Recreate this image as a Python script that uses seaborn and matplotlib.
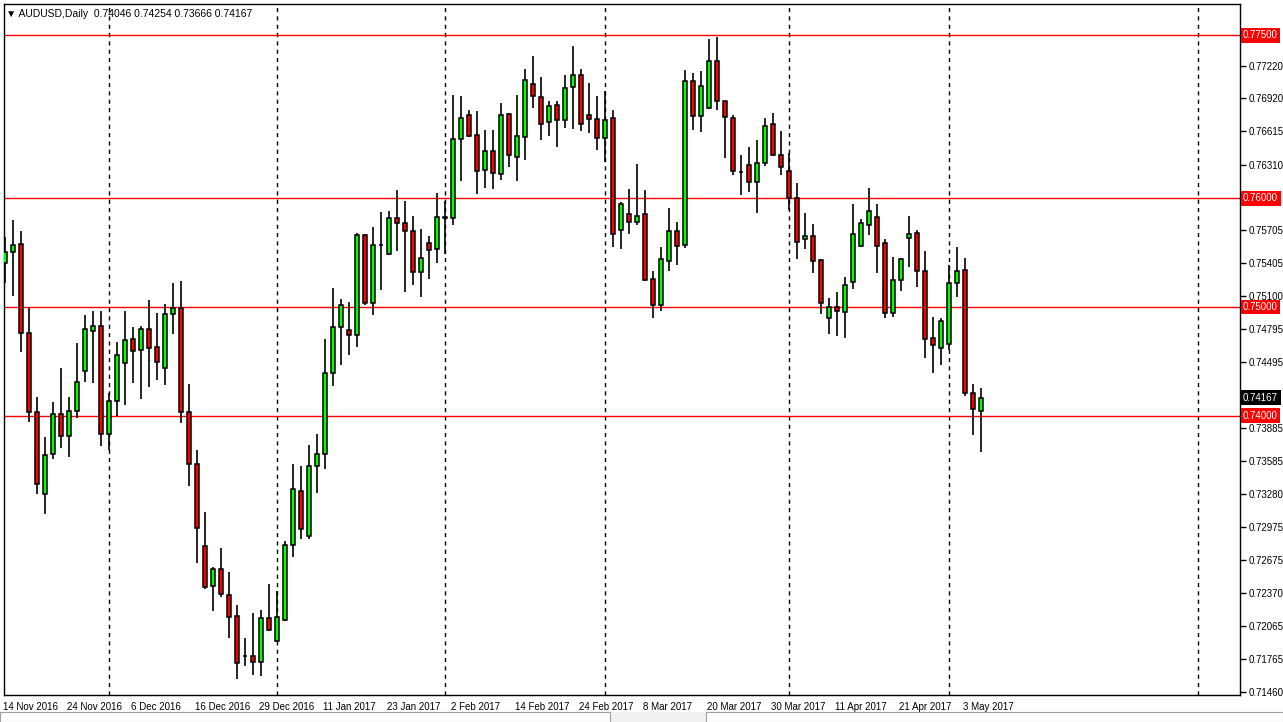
import numpy as np
import pandas as pd
import matplotlib
matplotlib.use("Agg")
import matplotlib.pyplot as plt
import matplotlib.transforms as mtransforms
from matplotlib.patches import Rectangle
import seaborn as sns

# AUDUSD daily bars, 14 Nov 2016 -> 5 May 2017
opens = [0.75405, 0.75506, 0.75580, 0.74761, 0.74034, 0.73280, 0.73648, 0.74016, 0.73813, 0.74043,
         0.74411, 0.74779, 0.74825, 0.73832, 0.74135, 0.74485, 0.74706, 0.74604, 0.74798, 0.74632,
         0.74439, 0.74936, 0.74991, 0.74034, 0.73556, 0.72801, 0.72433, 0.72590, 0.72350, 0.72157,
         0.71785, 0.71789, 0.71734, 0.72139, 0.71927, 0.72120, 0.72810, 0.73307, 0.72893, 0.73537,
         0.73648, 0.74393, 0.74816, 0.74788, 0.74742, 0.75662, 0.75037, 0.75570, 0.75488, 0.75819,
         0.75773, 0.75699, 0.75322, 0.75589, 0.75534, 0.75828, 0.75819, 0.76546, 0.76766, 0.76582,
         0.76260, 0.76435, 0.76224, 0.76776, 0.76380, 0.76564, 0.77052, 0.76932, 0.76702, 0.76858,
         0.76720, 0.77024, 0.77134, 0.76766, 0.76730, 0.76555, 0.76739, 0.75708, 0.75856, 0.75782,
         0.75856, 0.75258, 0.75018, 0.75423, 0.75699, 0.75570, 0.77079, 0.76757, 0.76831, 0.77263,
         0.76895, 0.76739, 0.76245, 0.76306, 0.76150, 0.76325, 0.76684, 0.76398, 0.76251, 0.76003,
         0.75626, 0.75653, 0.75432, 0.74899, 0.75000, 0.74954, 0.75230, 0.75561, 0.75754, 0.75828,
         0.75589, 0.74945, 0.75248, 0.75635, 0.75681, 0.75331, 0.74715, 0.74623, 0.74660, 0.75221,
         0.75340, 0.74209, 0.74046]
highs = [0.75644, 0.75800, 0.75699, 0.74991, 0.74172, 0.73804, 0.74126, 0.74439, 0.74172, 0.74669,
         0.74926, 0.74963, 0.74963, 0.74209, 0.74678, 0.74963, 0.74816, 0.74825, 0.75064, 0.74945,
         0.75028, 0.75221, 0.75239, 0.74292, 0.73684, 0.73114, 0.72608, 0.72783, 0.72562, 0.72258,
         0.71955, 0.72185, 0.72212, 0.72452, 0.72387, 0.72847, 0.73556, 0.73537, 0.73730, 0.73832,
         0.74706, 0.75175, 0.75074, 0.75046, 0.75681, 0.75670, 0.75736, 0.75874, 0.75883, 0.76076,
         0.75975, 0.75837, 0.75718, 0.75653, 0.76049, 0.75975, 0.76950, 0.76941, 0.76812, 0.76803,
         0.76628, 0.76628, 0.76877, 0.76785, 0.76950, 0.77190, 0.77309, 0.77116, 0.76895, 0.76895,
         0.77134, 0.77401, 0.77190, 0.77061, 0.76941, 0.76987, 0.76812, 0.75966, 0.76086, 0.76316,
         0.76076, 0.75331, 0.75552, 0.75911, 0.75782, 0.77180, 0.77153, 0.77171, 0.77466, 0.77484,
         0.76900, 0.76766, 0.76398, 0.76472, 0.76536, 0.76739, 0.76785, 0.76619, 0.76417, 0.76141,
         0.75865, 0.75764, 0.75442, 0.75083, 0.75138, 0.75276, 0.75948, 0.75810, 0.76095, 0.75948,
         0.75626, 0.75460, 0.75451, 0.75837, 0.75708, 0.75515, 0.74908, 0.74899, 0.75386, 0.75552,
         0.75451, 0.74292, 0.74254]
lows = [0.75221, 0.75101, 0.74586, 0.73942, 0.73280, 0.73096, 0.73602, 0.73703, 0.73620, 0.73979,
        0.74310, 0.74301, 0.73721, 0.73684, 0.73997, 0.74098, 0.74301, 0.74154, 0.74264, 0.74328,
        0.74282, 0.74752, 0.73933, 0.73353, 0.72645, 0.72406, 0.72203, 0.72332, 0.71955, 0.71578,
        0.71697, 0.71614, 0.71605, 0.72020, 0.71920, 0.72111, 0.72700, 0.72866, 0.72866, 0.73289,
        0.73510, 0.74273, 0.74466, 0.74558, 0.74632, 0.75018, 0.74926, 0.75156, 0.75478, 0.75515,
        0.75138, 0.75202, 0.75092, 0.75258, 0.75405, 0.75488, 0.75754, 0.76159, 0.76565, 0.76040,
        0.76095, 0.76086, 0.76168, 0.76288, 0.76159, 0.76352, 0.76831, 0.76536, 0.76573, 0.76472,
        0.76647, 0.76638, 0.76619, 0.76601, 0.76444, 0.76334, 0.75552, 0.75534, 0.75672, 0.75754,
        0.75239, 0.74899, 0.74963, 0.75331, 0.75386, 0.75543, 0.76628, 0.76610, 0.76822, 0.76812,
        0.76371, 0.76214, 0.76030, 0.76058, 0.75865, 0.76297, 0.76389, 0.76214, 0.75892, 0.75442,
        0.75534, 0.75313, 0.74936, 0.74752, 0.74733, 0.74715, 0.75166, 0.75552, 0.75662, 0.75313,
        0.74899, 0.74908, 0.75147, 0.75368, 0.75184, 0.74531, 0.74393, 0.74466, 0.74604, 0.75092,
        0.74181, 0.73822, 0.73666]
closes = [0.75506, 0.75570, 0.74761, 0.74034, 0.73372, 0.73638, 0.74016, 0.73813, 0.74043, 0.74310,
          0.74798, 0.74825, 0.73832, 0.74135, 0.74558, 0.74696, 0.74595, 0.74798, 0.74623, 0.74494,
          0.74936, 0.74991, 0.74034, 0.73556, 0.72967, 0.72424, 0.72590, 0.72360, 0.72148, 0.71725,
          0.71792, 0.71734, 0.72139, 0.72028, 0.72148, 0.72810, 0.73326, 0.72958, 0.73537, 0.73648,
          0.74393, 0.74816, 0.75018, 0.74742, 0.75662, 0.75037, 0.75570, 0.75575, 0.75819, 0.75773,
          0.75699, 0.75322, 0.75451, 0.75524, 0.75828, 0.75822, 0.76546, 0.76739, 0.76573, 0.76251,
          0.76435, 0.76233, 0.76766, 0.76398, 0.76573, 0.77088, 0.76941, 0.76684, 0.76849, 0.76720,
          0.77015, 0.77134, 0.76684, 0.76730, 0.76555, 0.76720, 0.75672, 0.75948, 0.75782, 0.75837,
          0.75248, 0.75018, 0.75442, 0.75699, 0.75561, 0.77079, 0.76757, 0.77033, 0.77263, 0.76895,
          0.76748, 0.76251, 0.76240, 0.76150, 0.76325, 0.76665, 0.76398, 0.76288, 0.76003, 0.75598,
          0.75653, 0.75423, 0.75037, 0.75000, 0.74963, 0.75202, 0.75672, 0.75773, 0.75883, 0.75561,
          0.74945, 0.75248, 0.75442, 0.75672, 0.75331, 0.74706, 0.74650, 0.74871, 0.75221, 0.75331,
          0.74209, 0.74062, 0.74167]

date_labels = ["14 Nov 2016", "24 Nov 2016", "6 Dec 2016", "16 Dec 2016", "29 Dec 2016",
               "11 Jan 2017", "23 Jan 2017", "2 Feb 2017", "14 Feb 2017", "24 Feb 2017",
               "8 Mar 2017", "20 Mar 2017", "30 Mar 2017", "11 Apr 2017", "21 Apr 2017",
               "3 May 2017"]
label_bars = list(range(0, 121, 8))
month_start_bars = [13, 34, 55, 75, 98, 118, 149.1]

level_lines = [0.775, 0.760, 0.750, 0.740]
price_ticks = [0.77220, 0.76920, 0.76615, 0.76310, 0.75705, 0.75405, 0.75100, 0.74795,
               0.74495, 0.73885, 0.73585, 0.73280, 0.72975, 0.72675, 0.72370, 0.72065,
               0.71765, 0.71460]

df = pd.DataFrame({"open": opens, "high": highs, "low": lows, "close": closes})
df["bar"] = np.arange(len(df))
df["up"] = df["close"] >= df["open"]

sns.set_style("white")
plt.rcParams["font.family"] = ["Liberation Sans", "DejaVu Sans"]
FS = 7

W, H = 1283, 722
fig = plt.figure(figsize=(W / 100, H / 100), dpi=100)
fig.patch.set_facecolor("white")
ax = fig.add_axes([4 / W, 27 / H, 1236 / W, 691 / H])
ax.set_facecolor("white")

# month separators
for b in month_start_bars:
    ax.axvline(b, color="black", linewidth=1, linestyle=(0, (3, 3)), zorder=1)

# support / resistance levels
for lv in level_lines:
    ax.axhline(lv, color="#FF0000", linewidth=1, zorder=1.5)

# wicks
ax.vlines(df["bar"], df["low"], df["high"], color="black", linewidth=1.2, zorder=2)

# bodies
bottoms = np.minimum(df["open"], df["close"])
heights = np.maximum((df["close"] - df["open"]).abs(), 0.00002)
colors = np.where(df["up"], "#00FF00", "#FF0000")
ax.bar(df["bar"], heights, bottom=bottoms, width=0.55, color=colors,
       edgecolor="black", linewidth=1.1, zorder=3)

ax.set_xlim(-0.125, 154.375)
ax.set_ylim(0.71430, 0.77788)

for sp in ax.spines.values():
    sp.set_color("black")
    sp.set_linewidth(1)

ax.yaxis.tick_right()
ax.set_yticks(price_ticks)
ax.set_yticklabels([f"{p:.5f}" for p in price_ticks])
ax.tick_params(axis="y", direction="out", length=4, width=1, labelsize=FS, pad=2, colors="black")

ax.set_xticks(label_bars)
ax.set_xticklabels(date_labels, ha="left")
ax.tick_params(axis="x", direction="out", length=3, width=1, labelsize=FS, pad=2, colors="black")
offset = mtransforms.ScaledTranslation(-2 / 100, 0, fig.dpi_scale_trans)
for lab in ax.get_xticklabels():
    lab.set_transform(lab.get_transform() + offset)

# price boxes on the right scale
trans = mtransforms.blended_transform_factory(ax.transAxes, ax.transData)
for lv in level_lines:
    ax.text(1.0025, lv, f"{lv:.5f}", transform=trans, color="white", fontsize=FS,
            va="center", ha="left", zorder=5, clip_on=False,
            bbox=dict(boxstyle="square,pad=0.25", fc="#FF0000", ec="none"))
ax.text(1.0025, closes[-1], f"{closes[-1]:.5f}", transform=trans, color="white", fontsize=FS,
        va="center", ha="left", zorder=5, clip_on=False,
        bbox=dict(boxstyle="square,pad=0.25", fc="black", ec="none"))

# chart header
ax.text(0.002, 0.993, f"\u25BC AUDUSD,Daily  {opens[-1]:.5f} {highs[-1]:.5f} {lows[-1]:.5f} {closes[-1]:.5f}",
        transform=ax.transAxes, fontsize=FS + 0.5, va="top", ha="left", color="black")

# terminal tab strip at the bottom
fig.patches.append(Rectangle((0, 0), 1, 10 / H, transform=fig.transFigure,
                             fc="#F0F0F0", ec="none", zorder=0))
fig.patches.append(Rectangle((0, 0), 610 / W, 10 / H, transform=fig.transFigure,
                             fc="white", ec="#A0A0A0", lw=0.8, zorder=1))
fig.patches.append(Rectangle((706 / W, 0), 577 / W, 10 / H, transform=fig.transFigure,
                             fc="white", ec="#A0A0A0", lw=0.8, zorder=1))

fig.savefig("out.png", dpi=100)
